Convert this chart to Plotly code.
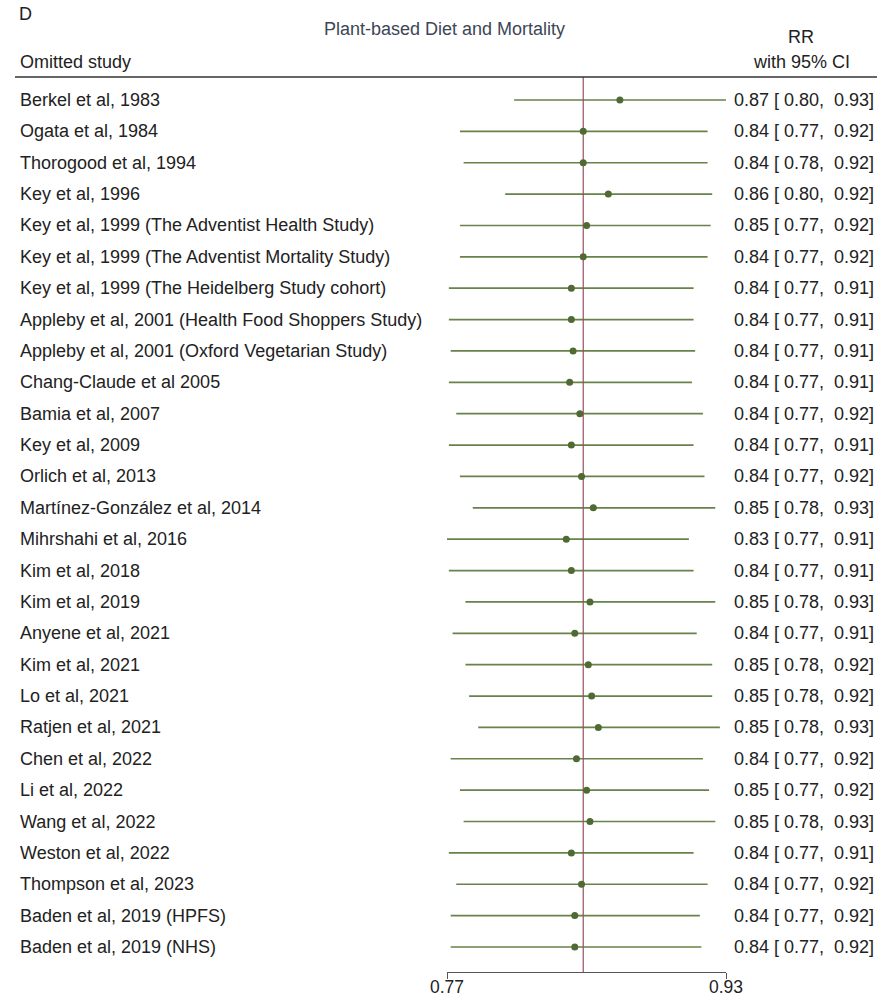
import math
import plotly.graph_objects as go

# Leave-one-out sensitivity analysis: pooled RR after omitting each study
studies = [
    "Berkel et al, 1983",
    "Ogata et al, 1984",
    "Thorogood et al, 1994",
    "Key et al, 1996",
    "Key et al, 1999 (The Adventist Health Study)",
    "Key et al, 1999 (The Adventist Mortality Study)",
    "Key et al, 1999 (The Heidelberg Study cohort)",
    "Appleby et al, 2001 (Health Food Shoppers Study)",
    "Appleby et al, 2001 (Oxford Vegetarian Study)",
    "Chang-Claude et al 2005",
    "Bamia et al, 2007",
    "Key et al, 2009",
    "Orlich et al, 2013",
    "Martínez-González et al, 2014",
    "Mihrshahi et al, 2016",
    "Kim et al, 2018",
    "Kim et al, 2019",
    "Anyene et al, 2021",
    "Kim et al, 2021",
    "Lo et al, 2021",
    "Ratjen et al, 2021",
    "Chen et al, 2022",
    "Li et al, 2022",
    "Wang et al, 2022",
    "Weston et al, 2022",
    "Thompson et al, 2023",
    "Baden et al, 2019 (HPFS)",
    "Baden et al, 2019 (NHS)",
]
rr = [0.866, 0.844, 0.844, 0.859, 0.846, 0.844, 0.837, 0.837, 0.838, 0.836,
      0.842, 0.837, 0.843, 0.850, 0.834, 0.837, 0.848, 0.839, 0.847, 0.849,
      0.853, 0.840, 0.846, 0.848, 0.837, 0.843, 0.839, 0.839]
lower = [0.804, 0.774, 0.776, 0.799, 0.774, 0.774, 0.768, 0.768, 0.769, 0.768,
         0.772, 0.768, 0.774, 0.781, 0.767, 0.768, 0.777, 0.770, 0.777, 0.779,
         0.784, 0.769, 0.774, 0.776, 0.768, 0.772, 0.769, 0.769]
upper = [0.933, 0.921, 0.921, 0.924, 0.923, 0.921, 0.912, 0.912, 0.913, 0.911,
         0.918, 0.912, 0.919, 0.926, 0.909, 0.912, 0.926, 0.914, 0.924, 0.924,
         0.929, 0.918, 0.922, 0.926, 0.912, 0.921, 0.916, 0.917]
overall_rr = 0.844

title = "Plant-based Diet and Mortality"
panel = "D"

W, H = 888, 998
FONT = "Liberation Sans, Arial, Helvetica, sans-serif"
TXT = "#222222"
CI_COLOR = "#67824a"
PT_COLOR = "#4f6a33"
REF_COLOR = "#95505c"

n = len(studies)
rows = list(range(n))

# vertical layout (row units): first row at 100px, spacing ~31.4px, axis at 972px
row_px0, row_step, axis_px = 100.0, 31.37, 972.0
y_top = -row_px0 / row_step
y_bot = (axis_px - row_px0) / row_step
def py(px):
    return (px - row_px0) / row_step

x_lo, x_hi = min(lower), max(upper)

fig = go.Figure()

# confidence interval segments
cx, cy = [], []
for i in rows:
    cx += [lower[i], upper[i], None]
    cy += [i, i, None]
fig.add_trace(go.Scatter(x=cx, y=cy, mode="lines",
                         line=dict(color=CI_COLOR, width=1.7),
                         hoverinfo="skip", showlegend=False))

# overall estimate reference line
fig.add_trace(go.Scatter(x=[overall_rr, overall_rr], y=[py(77), y_bot], mode="lines",
                         line=dict(color=REF_COLOR, width=1.2),
                         hoverinfo="skip", showlegend=False))

# point estimates
fig.add_trace(go.Scatter(x=rr, y=rows, mode="markers",
                         marker=dict(color=PT_COLOR, size=7),
                         showlegend=False))

ann = []
for i in rows:
    ann.append(dict(x=18 / W, xref="paper", y=i, yref="y", text=studies[i],
                    xanchor="left", yanchor="middle", showarrow=False,
                    font=dict(family=FONT, size=18, color=TXT)))
    label = f"{rr[i]:.2f} [\u00a0{lower[i]:.2f},\u00a0\u00a0{upper[i]:.2f}]"
    ann.append(dict(x=876 / W, xref="paper", y=i, yref="y", text=label,
                    xanchor="right", yanchor="middle", showarrow=False,
                    font=dict(family=FONT, size=18, color=TXT)))

ann += [
    dict(x=17 / W, xref="paper", y=py(14), yref="y", text=panel, xanchor="left",
         yanchor="middle", showarrow=False, font=dict(family=FONT, size=18, color=TXT)),
    dict(x=0.5, xref="paper", y=py(29), yref="y", text=title, xanchor="center",
         yanchor="middle", showarrow=False, font=dict(family=FONT, size=18, color="#3c4656")),
    dict(x=18 / W, xref="paper", y=py(62), yref="y", text="Omitted study", xanchor="left",
         yanchor="middle", showarrow=False, font=dict(family=FONT, size=18, color=TXT)),
    dict(x=801 / W, xref="paper", y=py(37), yref="y", text="RR", xanchor="center",
         yanchor="middle", showarrow=False, font=dict(family=FONT, size=18, color=TXT)),
    dict(x=801 / W, xref="paper", y=py(62), yref="y", text="with 95% CI", xanchor="center",
         yanchor="middle", showarrow=False, font=dict(family=FONT, size=18, color=TXT)),
]

fig.update_layout(
    width=W, height=H,
    margin=dict(l=0, r=0, t=0, b=0, pad=0, autoexpand=False),
    paper_bgcolor="white", plot_bgcolor="white",
    annotations=ann,
    shapes=[dict(type="line", xref="paper", yref="y", x0=15 / W, x1=877 / W,
                 y0=py(77), y1=py(77), line=dict(color="#333333", width=1.5))],
    xaxis=dict(type="log", range=[math.log10(x_lo), math.log10(x_hi)],
               domain=[447 / W, 726 / W], showgrid=False, zeroline=False,
               showline=True, linecolor="#555555", linewidth=1.2,
               ticks="outside", ticklen=6, tickcolor="#555555", tickwidth=1.2,
               tickmode="array", tickvals=[x_lo, x_hi],
               ticktext=[f"{x_lo:.2f}", f"{x_hi:.2f}"], automargin=False,
               ticklabelstandoff=-7,
               tickfont=dict(family=FONT, size=17.5, color=TXT)),
    yaxis=dict(range=[y_bot, y_top], domain=[(H - axis_px) / H, 1],
               visible=False, showgrid=False, zeroline=False, automargin=False),
    hovermode=False,
)

fig.write_html("out.html")
